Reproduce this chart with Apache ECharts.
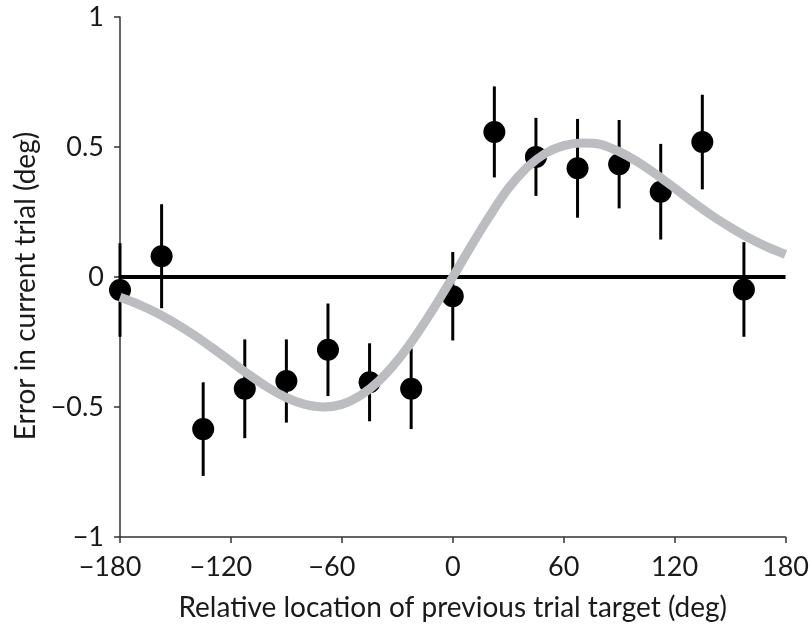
<!DOCTYPE html>
<html>
<head>
<meta charset="utf-8">
<script src="https://cdn.jsdelivr.net/npm/echarts@6/dist/echarts.min.js"></script>
<style>
  html, body { margin: 0; padding: 0; background: #fff; }
  #chart { width: 812px; height: 627px; }
</style>
</head>
<body>
<div id="chart"></div>
<script>
// Relative location of the previous trial target (deg)
const relLocation = [-180, -157.5, -135, -112.5, -90, -67.5, -45, -22.5, 0, 22.5, 45, 67.5, 90, 112.5, 135, 157.5];
// Mean error in the current trial (deg)
const meanError = [-0.05, 0.08, -0.585, -0.43, -0.40, -0.28, -0.405, -0.43, -0.074, 0.558, 0.462, 0.418, 0.434, 0.328, 0.519, -0.048];
// Half-length of each error bar (deg)
const errHalf = [0.18, 0.20, 0.18, 0.19, 0.16, 0.178, 0.15, 0.155, 0.17, 0.175, 0.15, 0.19, 0.17, 0.184, 0.182, 0.182];

// Fitted curve, sampled every 10 deg
const fitX = [-180, -170, -160, -150, -140, -130, -120, -110, -100, -90, -80, -70, -60, -50, -40, -30, -20, -10,
              0, 10, 20, 30, 40, 50, 60, 70, 80, 90, 100, 110, 120, 130, 140, 150, 160, 170, 180];
const fitY = [-0.078, -0.105, -0.138, -0.178, -0.223, -0.273, -0.325, -0.377, -0.425, -0.464, -0.49, -0.50, -0.49, -0.456, -0.40, -0.322, -0.226, -0.117,
              0, 0.12, 0.235, 0.34, 0.42, 0.475, 0.505, 0.515, 0.51, 0.482, 0.443, 0.395, 0.342, 0.288, 0.237, 0.192, 0.151, 0.116, 0.087];

const xTicks = [-180, -120, -60, 0, 60, 120, 180];
const yTicks = [-1, -0.5, 0, 0.5, 1];

const FONT = 'Lato';
const TICK_SIZE = 27;
const NAME_SIZE = 28;
const TEXT = '#1a1a1a';
const minus = v => String(v).replace('-', '\u2212');
// negative x labels are centred on their digits, so the minus sign hangs to the left
const xLabel = v => (v < 0 ? '{neg|' + minus(v) + '}' : '{pos|' + v + '}');

const chart = echarts.init(document.getElementById('chart'), null, { renderer: 'canvas' });

chart.setOption({
  animation: false,
  backgroundColor: '#fff',
  grid: { left: 120, right: 24, top: 17, bottom: 89, containLabel: false },
  xAxis: {
    type: 'value',
    min: xTicks[0],
    max: xTicks[xTicks.length - 1],
    interval: 60,
    name: 'Relative location of previous trial target (deg)',
    nameLocation: 'middle',
    nameGap: 57,
    nameTextStyle: { fontFamily: FONT, fontSize: NAME_SIZE, color: TEXT },
    axisLine: { onZero: false, lineStyle: { color: '#333', width: 1.5 } },
    axisTick: { length: 6, lineStyle: { color: '#333', width: 1.5 } },
    axisLabel: {
      fontFamily: FONT, fontSize: TICK_SIZE, color: TEXT, margin: 17, formatter: xLabel,
      rich: {
        neg: { fontFamily: FONT, fontSize: TICK_SIZE, color: TEXT, padding: [0, 20, 0, 0] },
        pos: { fontFamily: FONT, fontSize: TICK_SIZE, color: TEXT }
      }
    },
    splitLine: { show: false }
  },
  yAxis: {
    type: 'value',
    min: yTicks[0],
    max: yTicks[yTicks.length - 1],
    interval: 0.5,
    name: 'Error in current trial (deg)',
    nameLocation: 'middle',
    nameGap: 80,
    nameTextStyle: { fontFamily: FONT, fontSize: NAME_SIZE, color: TEXT, padding: [0, 18, 0, 0] },
    axisLine: { onZero: false, lineStyle: { color: '#333', width: 1.5 } },
    axisTick: { length: 6, lineStyle: { color: '#333', width: 1.5 } },
    axisLabel: { fontFamily: FONT, fontSize: TICK_SIZE, color: TEXT, margin: 16, padding: [6, 0, 0, 0], formatter: minus },
    splitLine: { show: false }
  },
  series: [
    {
      // zero reference line
      type: 'line',
      data: [[-180, 0], [180, 0]],
      symbol: 'none',
      lineStyle: { color: '#000', width: 4 },
      z: 1,
      silent: true
    },
    {
      // error bars
      type: 'custom',
      data: relLocation.map((x, i) => [x, meanError[i] - errHalf[i], meanError[i] + errHalf[i]]),
      renderItem: (params, api) => {
        const lo = api.coord([api.value(0), api.value(1)]);
        const hi = api.coord([api.value(0), api.value(2)]);
        return {
          type: 'line',
          shape: { x1: lo[0], y1: lo[1], x2: hi[0], y2: hi[1] },
          style: { stroke: '#000', lineWidth: 3 }
        };
      },
      encode: { x: 0, y: [1, 2] },
      z: 2
    },
    {
      // means
      type: 'scatter',
      data: relLocation.map((x, i) => [x, meanError[i]]),
      symbol: 'circle',
      symbolSize: 22,
      itemStyle: { color: '#000', opacity: 1 },
      z: 3
    },
    {
      // fitted curve
      type: 'line',
      data: fitX.map((x, i) => [x, fitY[i]]),
      smooth: 0.3,
      symbol: 'none',
      lineStyle: { color: '#bcbdc0', width: 9, cap: 'butt' },
      z: 4
    }
  ]
});
</script>
</body>
</html>
